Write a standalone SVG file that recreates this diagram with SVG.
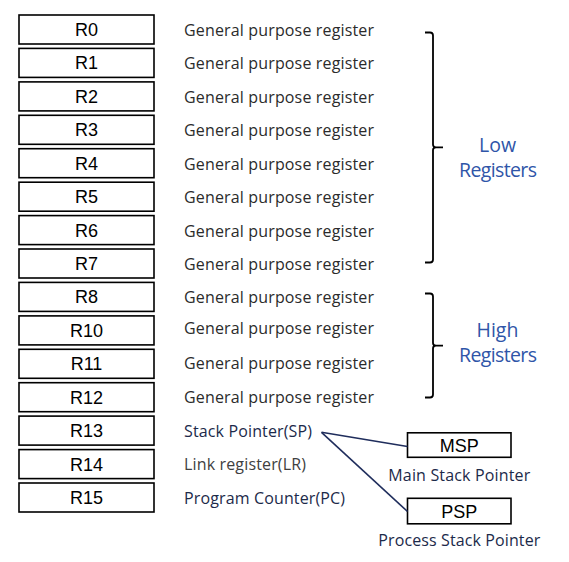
<svg xmlns="http://www.w3.org/2000/svg" width="569" height="562" viewBox="0 0 569 562">
<style>
.box{fill:#fff;stroke:#000;stroke-width:1.6}
.rl{font-family:"Liberation Sans",Arial,sans-serif;font-size:18px;fill:#000;text-anchor:middle}
.ds{font-family:"Open Sans","Noto Sans",sans-serif;font-size:16px;fill:#2b2b2b}
.ds2{font-family:"Open Sans","Noto Sans",sans-serif;font-size:16px;fill:#1c2a4a}
.ds3{font-family:"Open Sans","Noto Sans",sans-serif;font-size:16px;fill:#404040}
.bl{font-family:"Open Sans","Noto Sans",sans-serif;font-size:19.5px;fill:#2f55a8;text-anchor:middle}
.br{fill:none;stroke:#000;stroke-width:1.8}
.cn{stroke:#1f2d5c;stroke-width:1.6;fill:none}
.sub{font-family:"Open Sans","Noto Sans",sans-serif;font-size:16px;fill:#1c2a4a;text-anchor:middle}
</style>
<rect width="569" height="562" fill="#fff"/>
<g id="R0"><rect class="box" x="19" y="15" width="135" height="29"/><text class="rl" x="86.5" y="36">R0</text><text class="ds" x="184" y="35.7" textLength="190">General purpose register</text></g>
<g id="R1"><rect class="box" x="19" y="48.4" width="135" height="29"/><text class="rl" x="86.5" y="69.4">R1</text><text class="ds" x="184" y="69" textLength="190">General purpose register</text></g>
<g id="R2"><rect class="box" x="19" y="81.9" width="135" height="29"/><text class="rl" x="86.5" y="102.9">R2</text><text class="ds" x="184" y="102.5" textLength="190">General purpose register</text></g>
<g id="R3"><rect class="box" x="19" y="115.3" width="135" height="29"/><text class="rl" x="86.5" y="136.3">R3</text><text class="ds" x="184" y="136" textLength="190">General purpose register</text></g>
<g id="R4"><rect class="box" x="19" y="148.7" width="135" height="29"/><text class="rl" x="86.5" y="169.7">R4</text><text class="ds" x="184" y="169.5" textLength="190">General purpose register</text></g>
<g id="R5"><rect class="box" x="19" y="182.2" width="135" height="29"/><text class="rl" x="86.5" y="203.2">R5</text><text class="ds" x="184" y="203" textLength="190">General purpose register</text></g>
<g id="R6"><rect class="box" x="19" y="215.6" width="135" height="29"/><text class="rl" x="86.5" y="236.6">R6</text><text class="ds" x="184" y="236.5" textLength="190">General purpose register</text></g>
<g id="R7"><rect class="box" x="19" y="249" width="135" height="29"/><text class="rl" x="86.5" y="270">R7</text><text class="ds" x="184" y="270" textLength="190">General purpose register</text></g>
<g id="R8"><rect class="box" x="19" y="282.4" width="135" height="29"/><text class="rl" x="86.5" y="303.4">R8</text><text class="ds" x="184" y="303" textLength="190">General purpose register</text></g>
<g id="R10"><rect class="box" x="19" y="315.9" width="135" height="29"/><text class="rl" x="86.5" y="336.9">R10</text><text class="ds" x="184" y="333.5" textLength="190">General purpose register</text></g>
<g id="R11"><rect class="box" x="19" y="349.3" width="135" height="29"/><text class="rl" x="86.5" y="370.3">R11</text><text class="ds" x="184" y="369" textLength="190">General purpose register</text></g>
<g id="R12"><rect class="box" x="19" y="382.7" width="135" height="29"/><text class="rl" x="86.5" y="403.7">R12</text><text class="ds" x="184" y="402.5" textLength="190">General purpose register</text></g>
<g id="R13"><rect class="box" x="19" y="416.1" width="135" height="29"/><text class="rl" x="86.5" y="437.1">R13</text><text class="ds2" x="184" y="437" textLength="128">Stack Pointer(SP)</text></g>
<g id="R14"><rect class="box" x="19" y="449.6" width="135" height="29"/><text class="rl" x="86.5" y="470.6">R14</text><text class="ds3" x="184" y="470" textLength="122">Link register(LR)</text></g>
<g id="R15"><rect class="box" x="19" y="483" width="135" height="29"/><text class="rl" x="86.5" y="504">R15</text><text class="ds2" x="184" y="503.5" textLength="161">Program Counter(PC)</text></g>
<g id="low">
<path class="br" d="M425,32.5 H430 Q433,32.5 433,35.5 V144.5 Q433,147.3 436,147.3 H443 M436,147.3 Q433,147.3 433,150 V259.5 Q433,262.5 430,262.5 H425"/>
<text class="bl" x="497.5" y="151.5">Low</text><text class="bl" x="498" y="176.5" textLength="78">Registers</text>
</g>
<g id="high">
<path class="br" d="M425,293.5 H430 Q433,293.5 433,296.5 V343 Q433,345.7 436,345.7 H443 M436,345.7 Q433,345.7 433,348.5 V394.5 Q433,397.5 430,397.5 H425"/>
<text class="bl" x="497.5" y="336.5">High</text><text class="bl" x="498" y="361.5" textLength="78">Registers</text>
</g>
<g id="MSP"><rect class="box" x="407.5" y="432.8" width="103.5" height="24.5"/><text class="rl" x="459.3" y="451.5">MSP</text><text class="sub" x="459.3" y="481" textLength="142">Main Stack Pointer</text></g>
<g id="PSP"><rect class="box" x="407.5" y="498.3" width="103.5" height="25.5"/><text class="rl" x="459.3" y="517.5">PSP</text><text class="sub" x="459.3" y="546" textLength="162">Process Stack Pointer</text></g>
<g id="connectors">
<line class="cn" x1="321.5" y1="432.3" x2="407.5" y2="446.5"/>
<line class="cn" x1="321.5" y1="432.3" x2="407.5" y2="511.5"/>
</g>
</svg>
